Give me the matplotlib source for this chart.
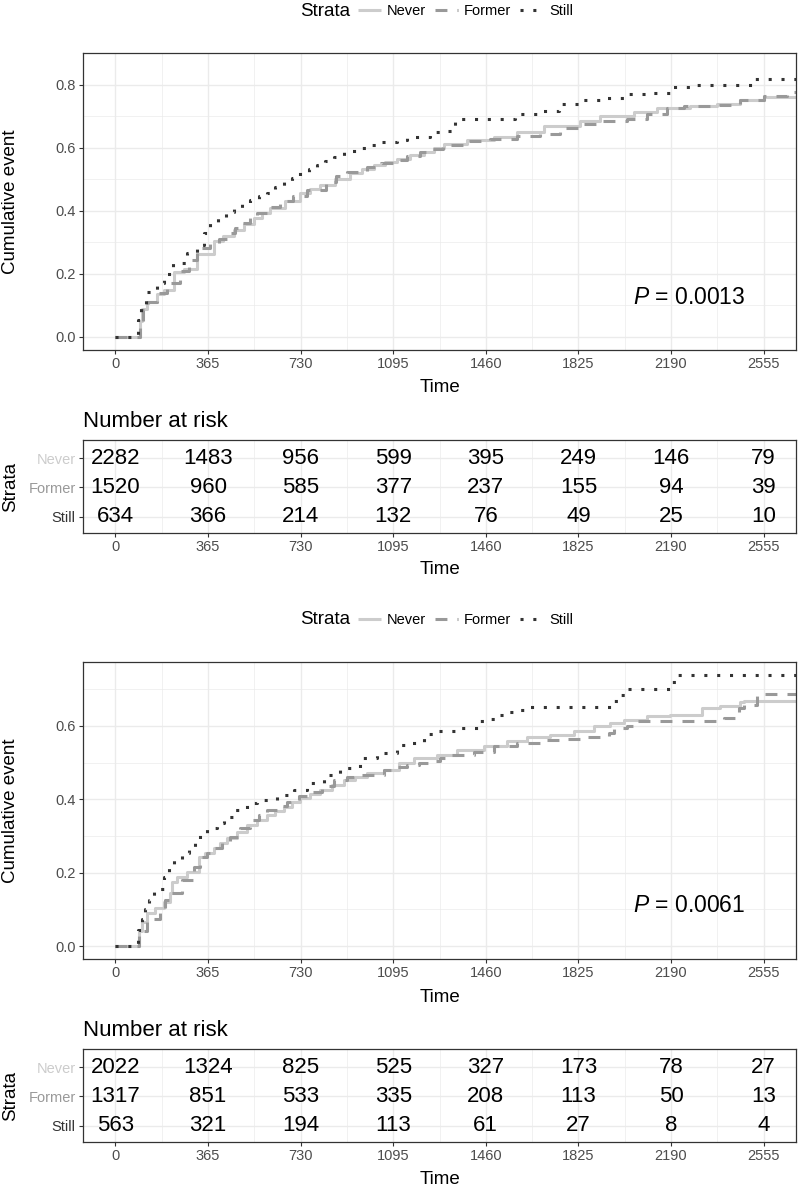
import matplotlib
matplotlib.use('Agg')
import matplotlib.pyplot as plt

plt.rcParams['font.family'] = ['Liberation Sans', 'DejaVu Sans']
plt.rcParams['mathtext.fontset'] = 'custom'
plt.rcParams['mathtext.it'] = 'Liberation Sans:italic'
plt.rcParams['mathtext.rm'] = 'Liberation Sans'

# ---------------- data ----------------
strata = ['Never', 'Former', 'Still']
risk_times = [0, 365, 730, 1095, 1460, 1825, 2190, 2555]
follow_up_end = 2700

# Top panel curves (cumulative event)
top_never_t = [0, 95, 105, 125, 164, 190, 230, 269, 322, 388, 425, 466, 505, 545, 578, 611, 670, 729, 768,
               808, 867, 926, 972, 1018, 1064, 1110, 1162, 1215, 1255, 1294, 1386, 1491, 1583, 1688, 1833,
               1912, 2043, 2135, 2266, 2372, 2463, 2555]
top_never_v = [0, 0.05, 0.089, 0.11, 0.136, 0.147, 0.204, 0.215, 0.262, 0.303, 0.32, 0.34, 0.358, 0.376,
               0.392, 0.408, 0.43, 0.455, 0.468, 0.481, 0.50, 0.518, 0.532, 0.544, 0.555, 0.565, 0.576,
               0.586, 0.60, 0.612, 0.625, 0.633, 0.65, 0.67, 0.685, 0.699, 0.713, 0.725, 0.732, 0.737,
               0.751, 0.761]
top_former_t = [0, 95, 110, 130, 164, 204, 256, 290, 322, 374, 407, 440, 470, 500, 530, 558, 604, 650, 700,
                755, 830, 870, 913, 992, 1045, 1097, 1150, 1200, 1245, 1290, 1380, 1478, 1583, 1675, 1754,
                1833, 1912, 2017, 2096, 2175, 2240, 2372, 2463, 2555, 2647]
top_former_v = [0, 0.05, 0.085, 0.11, 0.14, 0.172, 0.209, 0.245, 0.282, 0.295, 0.31, 0.33, 0.345, 0.36,
                0.378, 0.392, 0.41, 0.429, 0.447, 0.466, 0.49, 0.51, 0.523, 0.539, 0.55, 0.56, 0.572, 0.585,
                0.597, 0.608, 0.622, 0.627, 0.638, 0.643, 0.661, 0.675, 0.685, 0.692, 0.706, 0.724, 0.732,
                0.735, 0.75, 0.764, 0.777]
top_still_t = [0, 91, 100, 121, 164, 190, 226, 282, 322, 348, 374, 403, 435, 466, 500, 532, 565, 598, 630,
               663, 696, 729, 762, 795, 828, 860, 900, 950, 992, 1050, 1110, 1150, 1242, 1287, 1340, 1577,
               1662, 1747, 1833, 1925, 2017, 2096, 2188, 2280, 2516]
top_still_v = [0, 0.052, 0.09, 0.143, 0.17, 0.2, 0.233, 0.265, 0.29, 0.33, 0.36, 0.38, 0.395, 0.408, 0.42,
               0.434, 0.445, 0.457, 0.475, 0.49, 0.505, 0.523, 0.533, 0.544, 0.557, 0.57, 0.59, 0.60, 0.609,
               0.617, 0.625, 0.633, 0.65, 0.654, 0.692, 0.708, 0.716, 0.737, 0.751, 0.758, 0.769, 0.774,
               0.792, 0.80, 0.819]

# Bottom panel curves
bot_never_t = [0, 93, 105, 125, 158, 190, 217, 223, 243, 282, 328, 355, 388, 414, 440, 480, 519, 560, 598,
               630, 663, 696, 729, 768, 808, 855, 900, 946, 992, 1058, 1117, 1176, 1268, 1347, 1452, 1544,
               1623, 1715, 1807, 1885, 1951, 2004, 2096, 2188, 2313, 2385, 2463, 2477]
bot_never_v = [0, 0.04, 0.066, 0.089, 0.103, 0.121, 0.144, 0.175, 0.189, 0.203, 0.244, 0.255, 0.267, 0.28,
               0.294, 0.312, 0.33, 0.343, 0.357, 0.368, 0.38, 0.392, 0.403, 0.415, 0.426, 0.44, 0.453,
               0.462, 0.471, 0.48, 0.5, 0.512, 0.521, 0.535, 0.544, 0.558, 0.569, 0.575, 0.585, 0.599,
               0.608, 0.617, 0.626, 0.63, 0.649, 0.655, 0.664, 0.667]
bot_former_t = [0, 93, 125, 177, 197, 217, 263, 309, 335, 362, 388, 420, 453, 492, 532, 565, 598, 637, 677,
                723, 769, 815, 860, 913, 966, 1058, 1104, 1150, 1196, 1242, 1280, 1320, 1412, 1491, 1583,
                1675, 1767, 1859, 1944, 1964, 2017, 2056, 2398, 2457, 2477, 2529]
bot_former_v = [0, 0.04, 0.075, 0.103, 0.126, 0.144, 0.18, 0.216, 0.244, 0.255, 0.267, 0.283, 0.298, 0.322,
                0.344, 0.357, 0.371, 0.383, 0.394, 0.408, 0.421, 0.437, 0.453, 0.46, 0.467, 0.48, 0.487,
                0.494, 0.498, 0.503, 0.512, 0.521, 0.528, 0.544, 0.553, 0.562, 0.565, 0.571, 0.58, 0.594,
                0.601, 0.612, 0.621, 0.649, 0.658, 0.686]
bot_still_t = [0, 91, 105, 118, 131, 151, 190, 210, 230, 263, 289, 315, 335, 361, 401, 427, 466, 519, 558,
               637, 703, 755, 821, 887, 966, 1031, 1110, 1150, 1215, 1268, 1353, 1432, 1472, 1505, 1544,
               1590, 1629, 1964, 1990, 2017, 2194, 2214]
bot_still_v = [0, 0.045, 0.075, 0.1, 0.126, 0.157, 0.189, 0.212, 0.235, 0.253, 0.271, 0.285, 0.307, 0.321,
               0.335, 0.353, 0.371, 0.389, 0.398, 0.412, 0.426, 0.444, 0.467, 0.485, 0.512, 0.526, 0.547,
               0.553, 0.578, 0.585, 0.594, 0.612, 0.619, 0.63, 0.637, 0.644, 0.651, 0.667, 0.685, 0.701,
               0.72, 0.738]

# Number at risk tables
top_risk_never = [2282, 1483, 956, 599, 395, 249, 146, 79]
top_risk_former = [1520, 960, 585, 377, 237, 155, 94, 39]
top_risk_still = [634, 366, 214, 132, 76, 49, 25, 10]
bot_risk_never = [2022, 1324, 825, 525, 327, 173, 78, 27]
bot_risk_former = [1317, 851, 533, 335, 208, 113, 50, 13]
bot_risk_still = [563, 321, 194, 113, 61, 27, 8, 4]

top_pval = '0.0013'
bot_pval = '0.0061'

# ---------------- style ----------------
line_colors = {'Never': '#CCCCCC', 'Former': '#999999', 'Still': '#333333'}
line_styles = {'Never': dict(linestyle='-'),
               'Former': dict(dashes=[3.9, 3.3]),
               'Still': dict(dashes=[1.0, 3.2])}
LW = 2.2
GRID = '#EBEBEB'
BORDER = '#333333'
TICKLAB = '#4D4D4D'

W, H = 800, 1189
fig = plt.figure(figsize=(W / 100, H / 100), dpi=100)


def fbox(left, top, right, bottom):
    return [left / W, 1 - bottom / H, (right - left) / W, (bottom - top) / H]


XMAX = 2555
XLIM = (-0.05 * XMAX, XMAX * 1.05)
x_minor = [t + 182.5 for t in risk_times[:-1]]


def style_axes(ax):
    for s in ax.spines.values():
        s.set_color(BORDER)
        s.set_linewidth(0.9)
    ax.tick_params(which='major', direction='out', length=2.8, width=0.8, color=BORDER,
                   labelcolor=TICKLAB, labelsize=10.5, pad=2.5)
    ax.tick_params(which='minor', length=0)
    ax.grid(which='major', color=GRID, linewidth=1.0)
    ax.grid(which='minor', color=GRID, linewidth=0.5)
    ax.set_axisbelow(True)
    ax.set_xlim(*XLIM)
    ax.set_xticks(risk_times)
    ax.set_xticks(x_minor, minor=True)
    ax.set_xticklabels([str(t) for t in risk_times])


def draw_block(y0, curves, risks, pval, ylim, yticks):
    # y0 = pixel row of the legend centre
    ax = fig.add_axes(fbox(83, y0 + 42, 796, y0 + 339))
    lines = []
    for name, (t, v) in zip(strata, curves):
        tt = list(t) + [follow_up_end]
        vv = list(v) + [v[-1]]
        ln, = ax.step(tt, vv, where='post', color=line_colors[name], lw=LW,
                      solid_capstyle='butt', dash_capstyle='butt', label=name,
                      **line_styles[name])
        lines.append(ln)
    style_axes(ax)
    ax.set_ylim(*ylim)
    ax.set_yticks(yticks)
    ax.set_yticklabels(['%.1f' % y for y in yticks])
    ax.set_yticks([y + 0.1 for y in yticks], minor=True)
    ax.set_xlabel('Time', fontsize=13.5)
    ax.xaxis.label.set_va('center')
    ax.xaxis.set_label_coords(0.5, -38 / 297)
    ax.set_ylabel('Cumulative event', fontsize=13.5)
    ax.yaxis.label.set_va('center')
    ax.yaxis.set_label_coords((11 - 83) / 713, 0.5)
    fig.text(633 / W, 1 - (y0 + 286) / H, r'$\mathit{P}$ = ' + pval, fontsize=16.5,
             ha='left', va='center')

    # legend
    fig.text(300 / W, 1 - y0 / H, 'Strata', fontsize=13.5, ha='left', va='center')
    fig.legend(lines, strata, ncol=3, frameon=False, loc='center left',
               bbox_to_anchor=(358 / W, 1 - y0 / H), fontsize=10.5, handlelength=1.6,
               handletextpad=0.4, columnspacing=0.6, borderpad=0, borderaxespad=0)

    # risk table
    tb_top = y0 + 429
    tb = fig.add_axes(fbox(83, tb_top, 796, tb_top + 93))
    style_axes(tb)
    tb.set_ylim(0.44, 3.62)
    rows = [3, 2, 1]
    tb.set_yticks(rows)
    tb.set_yticklabels(strata)
    for lab, name in zip(tb.get_yticklabels(), strata):
        lab.set_color(line_colors[name])
    for r, vals in zip(rows, risks):
        for t, n in zip(risk_times, vals):
            tb.text(t, r, str(n), ha='center', va='center', fontsize=16, color='black')
    tb.set_xlabel('Time', fontsize=13.5)
    tb.xaxis.label.set_va('center')
    tb.xaxis.set_label_coords(0.5, -37 / 93)
    tb.set_ylabel('Strata', fontsize=13.5)
    tb.yaxis.label.set_va('center')
    tb.yaxis.set_label_coords((11 - 83) / 713, 0.5)
    fig.text(83 / W, 1 - (tb_top - 13) / H, 'Number at risk', fontsize=16,
             ha='left', va='baseline')


draw_block(11,
           [(top_never_t, top_never_v), (top_former_t, top_former_v), (top_still_t, top_still_v)],
           [top_risk_never, top_risk_former, top_risk_still], top_pval,
           (-0.042, 0.889), [0.0, 0.2, 0.4, 0.6, 0.8])
draw_block(620,
           [(bot_never_t, bot_never_v), (bot_former_t, bot_former_v), (bot_still_t, bot_still_v)],
           [bot_risk_never, bot_risk_former, bot_risk_still], bot_pval,
           (-0.035, 0.774), [0.0, 0.2, 0.4, 0.6])

fig.savefig('out.png', dpi=100)
